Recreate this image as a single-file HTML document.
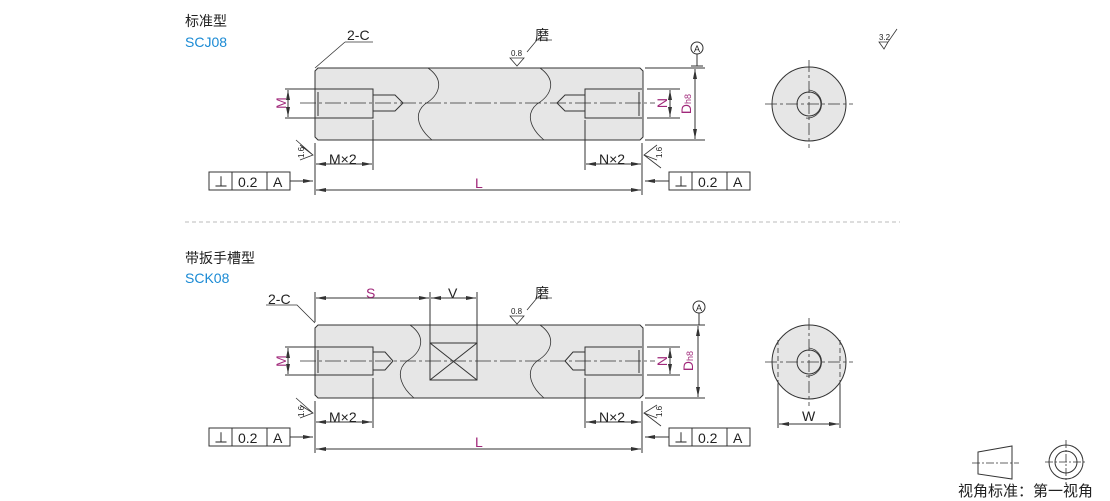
<!DOCTYPE html>
<html><head><meta charset="utf-8"><style>
body{margin:0;background:#fff;width:1110px;height:501px;overflow:hidden}
svg{display:block}
text{font-family:"Liberation Sans","Noto Sans CJK SC",sans-serif}
</style></head><body>
<svg width="1110" height="501" viewBox="0 0 1110 501" xmlns="http://www.w3.org/2000/svg">
<defs>
<marker id="ar" markerWidth="10" markerHeight="6" refX="10" refY="3" orient="auto" markerUnits="userSpaceOnUse"><path d="M0,1 L10,3 L0,5 Z" fill="#333"/></marker>
</defs>
<g id="top">
<text x="185" y="26" font-size="14" fill="#222">标准型</text>
<text x="185" y="47" font-size="14" fill="#1a8ad4">SCJ08</text>
</g>
<text x="185" y="263" font-size="14" fill="#222">带扳手槽型</text>
<text x="185" y="283" font-size="14" fill="#1a8ad4">SCK08</text>
<line x1="185" y1="222" x2="900" y2="222" stroke="#bbb" stroke-dasharray="4,3"/>

<g stroke="#333" stroke-width="1" fill="none">
<path d="M318,68 H640 L643,71 V137 L640,140 H318 L315,137 V71 Z" fill="#e6e6e6"/>
<path d="M428,68 C445,80 440,95 425,104 C412,115 420,130 432,140" stroke-width="0.8"/>
<path d="M540,68 C557,80 552,95 537,104 C524,115 532,130 544,140" stroke-width="0.8"/>
<path d="M315,89 H373 V118 H315 M318,92 V116 M373,95 H395 L403,103 L395,111 H373"/>
<path d="M642,89 H585 V118 H642 M639,92 V116 M585,95 H565 L557,103 L565,111 H585"/>
<line x1="300" y1="103" x2="655" y2="103" stroke-dasharray="16,3,3,3" stroke-width="0.8"/>
<path d="M285,89 H315 M285,118 H315 M647,89 H680 M647,118 H680 M645,68 H705 M645,140 H705"/>
<line x1="288" y1="103" x2="288" y2="90" marker-end="url(#ar)"/><line x1="288" y1="103" x2="288" y2="117" marker-end="url(#ar)"/>
<line x1="670" y1="103" x2="670" y2="90" marker-end="url(#ar)"/><line x1="670" y1="103" x2="670" y2="117" marker-end="url(#ar)"/>
<line x1="695" y1="104" x2="695" y2="69" marker-end="url(#ar)"/><line x1="695" y1="104" x2="695" y2="139" marker-end="url(#ar)"/>
<circle cx="697" cy="48" r="6"/><path d="M697,54 V66 M691,66 H703"/>
<path d="M315,143 V195 M373,120 V170 M585,120 V170 M642,143 V195"/>
<line x1="344" y1="164" x2="316" y2="164" marker-end="url(#ar)"/><line x1="344" y1="164" x2="372" y2="164" marker-end="url(#ar)"/>
<line x1="614" y1="164" x2="586" y2="164" marker-end="url(#ar)"/><line x1="614" y1="164" x2="641" y2="164" marker-end="url(#ar)"/>
<line x1="480" y1="190" x2="316" y2="190" marker-end="url(#ar)"/><line x1="480" y1="190" x2="641" y2="190" marker-end="url(#ar)"/>
<rect x="209" y="172" width="81" height="18"/><path d="M232,172 V190 M267,172 V190"/>
<line x1="290" y1="181" x2="313" y2="181" marker-end="url(#ar)"/>
<rect x="669" y="172" width="81" height="18"/><path d="M692,172 V190 M727,172 V190"/>
<line x1="669" y1="181" x2="645" y2="181" marker-end="url(#ar)"/>
<path d="M345,42 H373 M345,42 L315,68" stroke-width="0.8"/>
<path d="M527,52 L537,40 H552 M510,58 H524 L517,66 Z" stroke-width="0.8"/>
<path d="M300,145 L313,155 L300,160 M296,140 L313,155" stroke-width="0.8"/>
<path d="M657,145 L644,155 L657,160 M661,168 L644,155" stroke-width="0.8"/>

<path d="M318,325 H640 L643,328 V395 L640,398 H318 L315,395 V328 Z" fill="#e6e6e6"/>
<path d="M410,325 C427,337 422,352 407,361 C394,372 402,388 414,398" stroke-width="0.8"/>
<path d="M540,325 C557,337 552,352 537,361 C524,372 532,388 544,398" stroke-width="0.8"/>
<rect x="430" y="343" width="47" height="37" fill="#e6e6e6"/>
<path d="M430,343 L477,380 M477,343 L430,380"/>
<path d="M315,347 H373 V375 H315 M318,350 V373 M373,352 H385 L393,361 L385,370 H373"/>
<path d="M642,347 H585 V375 H642 M639,350 V373 M585,352 H573 L565,361 L573,370 H585"/>
<line x1="300" y1="361" x2="655" y2="361" stroke-dasharray="16,3,3,3" stroke-width="0.8"/>
<path d="M285,347 H315 M285,375 H315 M647,347 H680 M647,375 H680 M645,325 H705 M645,398 H705"/>
<line x1="288" y1="361" x2="288" y2="348" marker-end="url(#ar)"/><line x1="288" y1="361" x2="288" y2="374" marker-end="url(#ar)"/>
<line x1="670" y1="361" x2="670" y2="348" marker-end="url(#ar)"/><line x1="670" y1="361" x2="670" y2="374" marker-end="url(#ar)"/>
<line x1="698" y1="361" x2="698" y2="326" marker-end="url(#ar)"/><line x1="698" y1="361" x2="698" y2="397" marker-end="url(#ar)"/>
<circle cx="699" cy="307" r="6"/><path d="M699,313 V325 M693,325 H705"/>
<path d="M315,292 V322 M430,292 V343 M477,292 V343"/>
<line x1="372" y1="298" x2="316" y2="298" marker-end="url(#ar)"/><line x1="372" y1="298" x2="429" y2="298" marker-end="url(#ar)"/>
<line x1="453" y1="298" x2="431" y2="298" marker-end="url(#ar)"/><line x1="453" y1="298" x2="476" y2="298" marker-end="url(#ar)"/>
<path d="M315,401 V453 M373,378 V428 M585,378 V428 M642,401 V453"/>
<line x1="344" y1="422" x2="316" y2="422" marker-end="url(#ar)"/><line x1="344" y1="422" x2="372" y2="422" marker-end="url(#ar)"/>
<line x1="614" y1="422" x2="586" y2="422" marker-end="url(#ar)"/><line x1="614" y1="422" x2="641" y2="422" marker-end="url(#ar)"/>
<line x1="480" y1="449" x2="316" y2="449" marker-end="url(#ar)"/><line x1="480" y1="449" x2="641" y2="449" marker-end="url(#ar)"/>
<rect x="209" y="428" width="81" height="18"/><path d="M232,428 V446 M267,428 V446"/>
<line x1="290" y1="437" x2="313" y2="437" marker-end="url(#ar)"/>
<rect x="669" y="428" width="81" height="18"/><path d="M692,428 V446 M727,428 V446"/>
<line x1="669" y1="437" x2="645" y2="437" marker-end="url(#ar)"/>
<path d="M266,305 H297 L315,323" stroke-width="0.8"/>
<path d="M527,310 L537,298 H552 M510,316 H524 L517,324 Z" stroke-width="0.8"/>
<path d="M300,405 L313,413 L300,418 M296,398 L313,413" stroke-width="0.8"/>
<path d="M657,405 L644,413 L657,418 M661,426 L644,413" stroke-width="0.8"/>

<circle cx="809" cy="104" r="37" fill="#e6e6e6"/>
<circle cx="809" cy="104" r="12"/>
<path d="M809,90 A14,14 0 1 1 806,118" stroke-width="0.8"/>
<path d="M765,104 H853 M809,60 V148" stroke-dasharray="12,3,3,3" stroke-width="0.8"/>
<circle cx="809" cy="362" r="37" fill="#e6e6e6"/>
<circle cx="809" cy="362" r="12"/>
<path d="M809,348 A14,14 0 1 1 806,376" stroke-width="0.8"/>
<path d="M765,362 H853 M809,318 V406" stroke-dasharray="12,3,3,3" stroke-width="0.8"/>
<path d="M778,340 V384 M840,340 V384" stroke-dasharray="5,3" stroke-width="0.8"/>
<path d="M778,384 V428 M840,384 V428"/>
<line x1="809" y1="424" x2="779" y2="424" marker-end="url(#ar)"/><line x1="809" y1="424" x2="839" y2="424" marker-end="url(#ar)"/>
<path d="M879,42 H888 L884,49 Z M888,42 L897,29" stroke-width="0.8"/>

<path d="M978,452 L1012,446 V479 L978,474 Z"/>
<path d="M972,463 H1019" stroke-dasharray="8,2,2,2" stroke-width="0.8"/>
<circle cx="1066" cy="462" r="17"/><circle cx="1066" cy="462" r="11"/>
<path d="M1045,462 H1087 M1066,440 V484" stroke-dasharray="8,2,2,2" stroke-width="0.8"/>
</g>
<g font-size="14" fill="#222">
<text x="347" y="40">2-C</text>
<text x="535" y="40">磨</text>
<text x="329" y="164">M×2</text>
<text x="599" y="164">N×2</text>
<text x="214" y="187">⊥</text><text x="238" y="187">0.2</text><text x="273" y="187">A</text>
<text x="674" y="187">⊥</text><text x="698" y="187">0.2</text><text x="733" y="187">A</text>
<text x="268" y="304">2-C</text>
<text x="535" y="298">磨</text>
<text x="448" y="298">V</text>
<text x="329" y="422">M×2</text>
<text x="599" y="422">N×2</text>
<text x="214" y="443">⊥</text><text x="238" y="443">0.2</text><text x="273" y="443">A</text>
<text x="674" y="443">⊥</text><text x="698" y="443">0.2</text><text x="733" y="443">A</text>
<text x="802" y="421">W</text>
<text x="958" y="496" font-size="15">视角标准：第一视角</text>
</g>
<g font-size="14" fill="#a0287a">
<text x="475" y="188">L</text>
<text x="475" y="447">L</text>
<text x="366" y="298">S</text>
<text transform="translate(286,103) rotate(-90)" text-anchor="middle">M</text>
<text transform="translate(667,103) rotate(-90)" text-anchor="middle">N</text>
<text transform="translate(691,104) rotate(-90)" text-anchor="middle">D<tspan font-size="9">h8</tspan></text>
<text transform="translate(286,361) rotate(-90)" text-anchor="middle">M</text>
<text transform="translate(667,361) rotate(-90)" text-anchor="middle">N</text>
<text transform="translate(693,361) rotate(-90)" text-anchor="middle">D<tspan font-size="9">h8</tspan></text>
</g>
<g font-size="8" fill="#222">
<text x="511" y="56">0.8</text><text x="511" y="314">0.8</text>
<text x="879" y="40">3.2</text>
<text x="694" y="52" font-size="9">A</text><text x="696" y="311" font-size="9">A</text>
<text transform="translate(304,158) rotate(-90)">1.6</text>
<text transform="translate(662,158) rotate(-90)">1.6</text>
<text transform="translate(304,417) rotate(-90)">1.6</text>
<text transform="translate(662,417) rotate(-90)">1.6</text>
</g>
</svg>
</body></html>
